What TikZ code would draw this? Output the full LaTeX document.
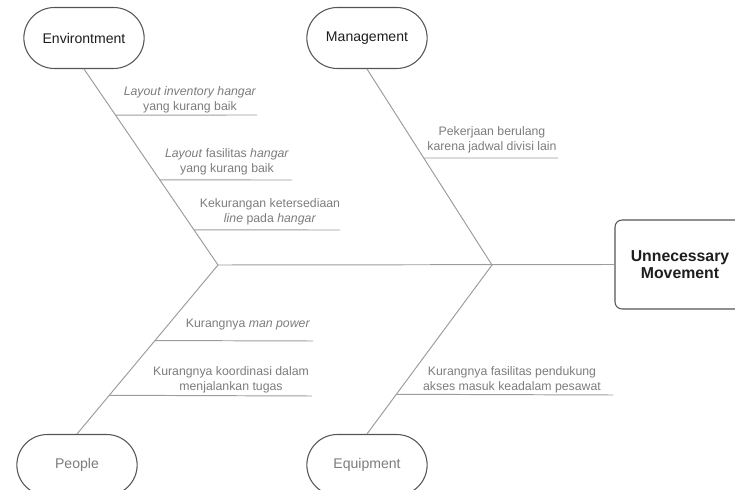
\documentclass[tikz,border=0pt]{standalone}
\usepackage{fontspec}
\setmainfont{Liberation Sans}
\definecolor{bonegray}{HTML}{9C9C9C}
\definecolor{frame}{HTML}{555555}
\definecolor{dimtext}{HTML}{7C7C7C}
\definecolor{ink}{HTML}{1E1E1E}
\usetikzlibrary{calc, positioning, shapes.misc}

\begin{document}
\begin{tikzpicture}[x=0.02cm, y=-0.02cm,
  category/.style={draw=frame, line width=0.6pt, rounded rectangle, minimum width=2.64cm, minimum height=1.22cm, font=\fontsize{8}{9.6}\selectfont},
  cause/.style={align=center, text=dimtext, inner sep=1pt, font=\fontsize{7}{8.5}\selectfont},
  bone/.style={draw=bonegray, line width=0.55pt}]
  \useasboundingbox (0,0) rectangle (735,490);
  \clip (0,0) rectangle (735,490);
  \node[category, text=ink] (env) at (84,38) {Environtment};
  \node[category, text=ink] (mgt) at (367,38) {Management};
  \node[category, text=dimtext] (ppl) at (77,465) {People};
  \node[category, text=dimtext] (eqp) at (367,465) {Equipment};
  \node[draw=frame, line width=0.6pt, rounded corners=4pt, minimum width=2.6cm, minimum height=1.78cm, align=center, text=ink, font=\fontsize{9}{9.5}\selectfont\bfseries] (effect) at (680,264.5) {Unnecessary\\Movement};
  \coordinate (j1) at (218,265);
  \coordinate (j2) at (492,265);
  \draw[bone] (j1) -- (effect.west);
  \draw[bone] (env.south) -- (j1) -- (ppl.north);
  \draw[bone] (mgt.south) -- (j2) -- (eqp.north);
  \coordinate (envAend) at (257,115);
  \coordinate (envBend) at (292,180);
  \coordinate (envCend) at (340,230);
  \coordinate (mgtAend) at (558,158);
  \coordinate (pplAend) at (313,341);
  \coordinate (pplBend) at (312,396);
  \coordinate (eqpAend) at (613,395);
  \draw[bone] ($(env.south)!0.235!(j1)$) -- (envAend);
  \draw[bone] ($(env.south)!0.566!(j1)$) -- (envBend);
  \draw[bone] ($(env.south)!0.821!(j1)$) -- (envCend);
  \draw[bone] ($(mgt.south)!0.454!(j2)$) -- (mgtAend);
  \draw[bone] ($(j1)!0.447!(ppl.north)$) -- (pplAend);
  \draw[bone] ($(j1)!0.771!(ppl.north)$) -- (pplBend);
  \draw[bone] ($(j2)!0.765!(eqp.north)$) -- (eqpAend);
  \node[cause] (envA) at (190,100) {\textit{Layout inventory hangar}\\yang kurang baik};
  \node[cause] (envB) at (227,162) {\textit{Layout} fasilitas \textit{hangar}\\yang kurang baik};
  \node[cause] (envC) at (270,212) {Kekurangan ketersediaan\\\textit{line} pada \textit{hangar}};
  \node[cause] (mgtA) at (492,140) {Pekerjaan berulang\\karena jadwal divisi lain};
  \node[cause] (pplA) at (248,325) {Kurangnya \textit{man power}};
  \node[cause] (pplB) at (231,380) {Kurangnya koordinasi dalam\\menjalankan tugas};
  \node[cause] (eqpA) at (512,380) {Kurangnya fasilitas pendukung\\akses masuk keadalam pesawat};
\end{tikzpicture}
\end{document}
